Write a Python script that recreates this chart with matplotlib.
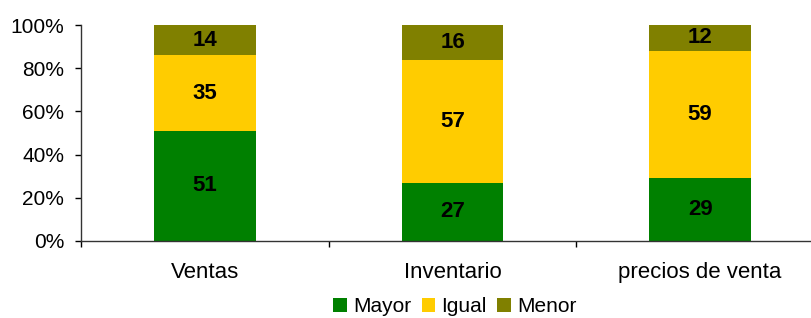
import matplotlib.pyplot as plt
import numpy as np

# ------------Данные------------------------------------------------

categorias = ['Ventas', 'Inventario', 'precios de venta']
mayor = [51, 27, 29]
igual = [35, 57, 59]
menor = [14, 16, 12]

series = [('Mayor', mayor, '#008000'),
          ('Igual', igual, '#FFCC00'),
          ('Menor', menor, '#808000')]

plt.rcParams['font.family'] = ['Liberation Sans', 'DejaVu Sans']

# ------------Построение графика------------------------------------

fig = plt.figure(figsize=(8.11, 3.18), dpi=100)
ax = fig.add_axes([81 / 811, 1 - 241 / 318, 743 / 811, 216 / 318])

x = np.arange(len(categorias))
base = np.zeros(len(categorias))
for name, vals, color in series:
    vals = np.array(vals, dtype=float)
    ax.bar(x, vals, 0.41, bottom=base, color=color, label=name)
    for xi, b, v in zip(x, base, vals):
        ax.text(xi, b + v / 2, str(int(v)), ha='center', va='center',
                fontsize=16, fontweight='bold', color='black')
    base = base + vals

ax.set_xlim(-0.5, 2.5)
ax.set_ylim(0, 100)
ax.set_yticks(np.arange(0, 101, 20))
ax.set_yticklabels([f'{v}%' for v in range(0, 101, 20)], fontsize=15)
ax.set_xticks(x)
ax.set_xticklabels(categorias, fontsize=16)
ax.set_xticks([-0.5, 0.5, 1.5], minor=True)
ax.tick_params(axis='x', which='major', length=0, pad=15)
ax.tick_params(axis='x', which='minor', length=4, direction='out', width=1)
ax.tick_params(axis='y', length=4, direction='out', pad=8, width=1)

for s in ['top', 'right']:
    ax.spines[s].set_visible(False)
for s in ['left', 'bottom']:
    ax.spines[s].set_linewidth(1)
    ax.spines[s].set_color('#333333')

fig.legend(loc='center', bbox_to_anchor=(455 / 811, 1 - 307 / 318),
           ncol=3, frameon=False, fontsize=15, handlelength=0.65,
           handleheight=0.65, handletextpad=0.3, columnspacing=0.5,
           borderpad=0, borderaxespad=0)

plt.savefig('out.png', dpi=100)
